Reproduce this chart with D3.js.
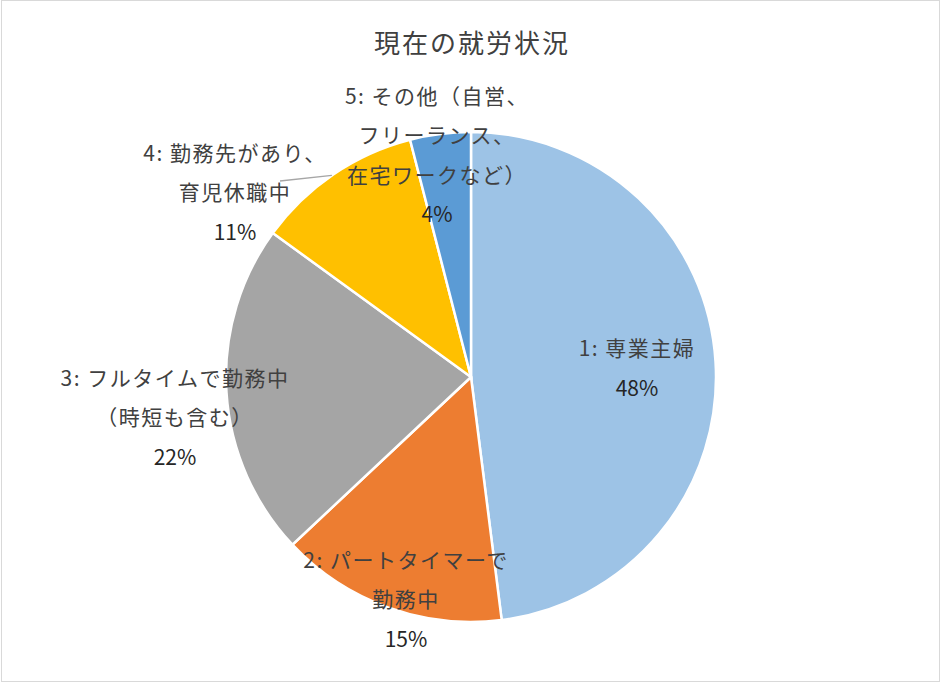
<!DOCTYPE html>
<html>
<head>
<meta charset="utf-8">
<script src="https://d3js.org/d3.v7.min.js"></script>
<style>
  body { margin: 0; background: #fff; }
  text { font-family: "Noto Sans CJK JP", "Noto Sans", sans-serif; fill: #404040; }
</style>
</head>
<body>
<div id="chart"></div>
<script>
// chart data
var title = "現在の就労状況";
var categories = ["1: 専業主婦", "2: パートタイマーで勤務中", "3: フルタイムで勤務中（時短も含む）",
                  "4: 勤務先があり、育児休職中", "5: その他（自営、フリーランス、在宅ワークなど）"];
var values = [48, 15, 22, 11, 4];
// how each label is broken into lines
var labelLines = [
  ["1: 専業主婦"],
  ["2: パートタイマーで", "勤務中"],
  ["3: フルタイムで勤務中", "（時短も含む）"],
  ["4: 勤務先があり、", "育児休職中"],
  ["5: その他（自営、", "フリーランス、", "在宅ワークなど）"]
];
var colors = ["#9DC3E6", "#ED7D31", "#A5A5A5", "#FFC000", "#5B9BD5"];

// layout
var width = 941, height = 683;
var cx = 471, cy = 377, radius = 245;
var lineGap = 39.5;
// label block centres, relative to the pie centre
var labelPos = [[166, -9], [-65, 222], [-296, 40], [-236, -185], [-34, -222]];

var svg = d3.select("#chart").append("svg")
    .attr("width", width)
    .attr("height", height);

// outer border
svg.append("rect")
    .attr("x", 1.5).attr("y", 0.5)
    .attr("width", 938).attr("height", 681)
    .attr("fill", "none")
    .attr("stroke", "#D9D9D9")
    .attr("stroke-width", 1);

// title
svg.append("text")
    .attr("x", 472)
    .attr("y", 53)
    .attr("text-anchor", "middle")
    .style("font-size", "26px")
    .style("letter-spacing", "2px")
    .text(title);

var pie = d3.pie().sort(null).value(function(d) { return d; });
var arc = d3.arc().innerRadius(0).outerRadius(radius);
var arcs = pie(values);

var g = svg.append("g")
    .attr("transform", "translate(" + cx + "," + cy + ")");

g.selectAll("path.slice")
    .data(arcs)
  .enter().append("path")
    .attr("class", "slice")
    .attr("d", arc)
    .attr("fill", function(d, i) { return colors[i]; })
    .attr("stroke", "#fff")
    .attr("stroke-width", 2.5);

// leader line for label 4, to the middle of its slice edge
var a4 = arcs[3];
var ang4 = a4.startAngle + (a4.endAngle - a4.startAngle) * 0.49;
var edge = [Math.sin(ang4) * radius, -Math.cos(ang4) * radius];
g.append("line")
    .attr("x1", -191).attr("y1", -196)
    .attr("x2", edge[0]).attr("y2", edge[1])
    .attr("stroke", "#A6A6A6")
    .attr("stroke-width", 1.3);

// data labels
arcs.forEach(function(d, i) {
  var lines = labelLines[i].concat([values[i] + "%"]);
  var n = lines.length;
  var p = labelPos[i];
  var t = g.append("text")
      .attr("text-anchor", "middle")
      .style("font-size", "21px");
  lines.forEach(function(s, j) {
    t.append("tspan")
      .attr("x", p[0])
      .attr("y", p[1] + (j - (n - 1) / 2) * lineGap + 8)
      .style("fill", j == n - 1 ? "#262626" : "#404040")
      .style("letter-spacing", j == n - 1 ? "0px" : "1.5px")
      .text(s);
  });
});
</script>
</body>
</html>
